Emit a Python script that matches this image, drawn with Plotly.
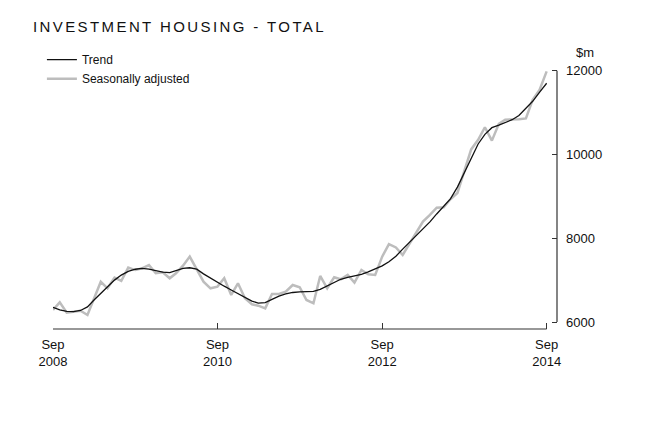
import pandas as pd
import plotly.graph_objects as go

months = pd.date_range("2008-09-01", "2014-09-01", freq="MS").strftime("%Y-%m-%d").tolist()

trend = [6350, 6290, 6255, 6250, 6275, 6360, 6520, 6690, 6850, 7000,
         7120, 7210, 7260, 7280, 7265, 7220, 7190, 7180, 7230, 7280,
         7295, 7260, 7150, 7045, 6950, 6855, 6765, 6685, 6590, 6500,
         6450, 6465, 6540, 6620, 6670, 6705, 6720, 6720, 6730, 6780,
         6860, 6945, 7020, 7065, 7100, 7140, 7195, 7260, 7340, 7440,
         7570, 7740, 7900, 8070, 8220, 8390, 8580, 8760, 8940, 9220,
         9570, 9930, 10250, 10480, 10640, 10700, 10760, 10830, 10930, 11100,
         11270, 11490, 11700]

seas_adj = [6290, 6470, 6222, 6240, 6270, 6167, 6550, 6960, 6805, 7060,
            6980, 7300, 7240, 7280, 7360, 7164, 7187, 7044, 7164, 7346,
            7561, 7243, 6963, 6805, 6844, 7044, 6645, 6925, 6566, 6423,
            6390, 6327, 6670, 6669, 6725, 6884, 6829, 6526, 6446, 7099,
            6805, 7068, 7020, 7123, 6940, 7243, 7140, 7123, 7560, 7860,
            7780, 7600, 7880, 8160, 8400, 8560, 8730, 8740, 8930, 9080,
            9620, 10120, 10350, 10650, 10330, 10730, 10830, 10830, 10840, 10860,
            11306, 11545, 11984]

x_ticks = ["2008-09-01", "2010-09-01", "2012-09-01", "2014-09-01"]
x_ticktext = ["Sep<br>2008", "Sep<br>2010", "Sep<br>2012", "Sep<br>2014"]
y_ticks = [6000, 8000, 10000, 12000]
y_ticktext = ["6000", "8000", "10000", "12000"]

FONT = "Liberation Sans, Arial, sans-serif"
AX = "#333333"

fig = go.Figure()
fig.add_trace(go.Scatter(x=months, y=seas_adj, mode="lines", name="Seasonally adjusted",
                         line=dict(color="#bdbdbd", width=2.5)))
fig.add_trace(go.Scatter(x=months, y=trend, mode="lines", name="Trend",
                         line=dict(color="#111111", width=1.3)))

x_end = pd.Timestamp(months[-1]) + pd.Timedelta(days=46)

fig.update_layout(
    width=660, height=422,
    margin=dict(l=45, r=111, t=57, b=101),
    paper_bgcolor="white", plot_bgcolor="white",
    font=dict(family=FONT, size=13, color="#111111"),
    title=dict(text='<span style="letter-spacing:2.4px">INVESTMENT HOUSING - TOTAL</span>',
               x=25 / 660, xanchor="left", y=1 - 19 / 422, yanchor="middle",
               font=dict(family=FONT, size=15, color="#111111")),
    showlegend=True,
    legend=dict(x=-0.022, xanchor="left", y=1.075, yanchor="top",
                bgcolor="rgba(0,0,0,0)", borderwidth=0,
                font=dict(family=FONT, size=12, color="#111111"),
                traceorder="reversed", tracegroupgap=0, itemwidth=30),
    xaxis=dict(type="date", range=[months[0], x_end], showgrid=False, zeroline=False,
               showline=False, ticks="inside", ticklen=6, tickcolor=AX, tickwidth=1,
               tickvals=x_ticks, ticktext=x_ticktext, ticklabelstandoff=6,
               tickfont=dict(family=FONT, size=13, color="#111111")),
    yaxis=dict(side="right", range=[5833, 12136], showgrid=False, zeroline=False,
               showline=False, ticks="inside", ticklen=5, tickcolor=AX, tickwidth=1,
               tickvals=y_ticks, ticktext=y_ticktext, ticklabelstandoff=8,
               tickfont=dict(family=FONT, size=13, color="#111111")),
)

# axis lines spanning only the data/tick range
fig.add_shape(type="line", xref="x", yref="paper", x0=months[0], x1=months[-1], y0=0, y1=0,
              line=dict(color=AX, width=1.2))
fig.add_shape(type="line", xref="paper", yref="y", x0=1, x1=1, y0=y_ticks[0], y1=y_ticks[-1],
              line=dict(color=AX, width=1.2))

fig.add_annotation(text="$m", xref="paper", yref="paper", x=1.056, y=1.047,
                   xanchor="center", yanchor="middle", showarrow=False,
                   font=dict(family=FONT, size=13, color="#111111"))

fig.write_html("out.html")
